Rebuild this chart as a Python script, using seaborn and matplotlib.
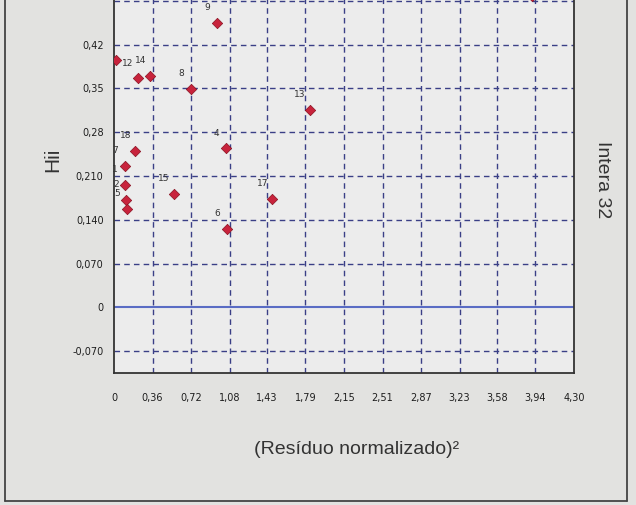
import matplotlib
matplotlib.use("Agg")
import matplotlib.pyplot as plt
import seaborn as sns
import pandas as pd
from matplotlib.lines import Line2D

# ---- data ----
obs_labels = ["9", "", "12", "14", "8", "13", "4", "18", "7", "1", "2", "5", "15", "17", "6", ""]
resid_sq = [0.96, 0.02, 0.22, 0.34, 0.72, 1.83, 1.05, 0.20, 0.10, 0.10, 0.11, 0.12, 0.56, 1.48, 1.06, 3.91]
hii = [0.455, 0.395, 0.366, 0.370, 0.349, 0.316, 0.254, 0.250, 0.226, 0.196, 0.172, 0.158, 0.181, 0.173, 0.126, 0.498]

x_ticks = [0, 0.36, 0.72, 1.08, 1.43, 1.79, 2.15, 2.51, 2.87, 3.23, 3.58, 3.94, 4.30]
x_tick_labels = ["0", "0,36", "0,72", "1,08", "1,43", "1,79", "2,15", "2,51", "2,87", "3,23", "3,58", "3,94", "4,30"]
y_ticks = [-0.07, 0, 0.07, 0.14, 0.21, 0.28, 0.35, 0.42, 0.49]
y_tick_labels = ["-0,070", "0", "0,070", "0,140", "0,210", "0,28", "0,35", "0,42", ""]

x_title = "(Resíduo normalizado)²"
y_title = "Hii"
side_title = "Intera 32"

df = pd.DataFrame({"label": obs_labels, "x": resid_sq, "y": hii})

sns.set_theme(style="white")
plt.rcParams['font.family'] = ['DejaVu Sans']

W, H = 636, 505
fig = plt.figure(figsize=(W / 100, H / 100), dpi=100, facecolor='#e2e2e0')
ax_left, ax_right, ax_bottom_px, ax_top_px = 114, 574, 373, -46
ax = fig.add_axes([ax_left / W, (H - ax_bottom_px) / H,
                   (ax_right - ax_left) / W, (ax_bottom_px - ax_top_px) / H])
ax.set_facecolor('#ececec')

ax.set_xlim(0, 4.30)
ax.set_ylim(-0.105, 0.565)

# grid
grid_kw = dict(color='#3a3f86', lw=1.0, linestyle=(0, (4, 3)), zorder=1)
for xv in x_ticks[1:-1]:
    ax.axvline(xv, **grid_kw)
for yv in y_ticks:
    if yv != 0:
        ax.axhline(yv, **grid_kw)
ax.axhline(0, color='#5a6cc4', lw=1.5, zorder=2)

sns.scatterplot(data=df, x="x", y="y", ax=ax, marker='D', s=28,
                color='#c8233c', edgecolor='#8a1020', linewidth=0.5, zorder=5,
                legend=False)

for _, r in df.iterrows():
    if r["label"]:
        ax.annotate(r["label"], (r["x"], r["y"]), xytext=(-7, 11),
                    textcoords='offset points', ha='center', va='center',
                    fontsize=6.5, color='#333333', zorder=6)

ax.set_xticks(x_ticks)
ax.set_xticklabels(x_tick_labels)
ax.set_yticks(y_ticks)
ax.set_yticklabels(y_tick_labels)
ax.tick_params(axis='x', direction='inout', length=5, width=1, color='#333333',
               labelsize=7, pad=12, labelcolor='#1e1e1e')
ax.tick_params(axis='y', direction='inout', length=5, width=1, color='#333333',
               labelsize=7, pad=5, labelcolor='#1e1e1e')

for sp in ax.spines.values():
    sp.set_color('#333333')
    sp.set_linewidth(1.3)

ax.set_xlabel(x_title, fontsize=14, family='Liberation Sans', color='#333333')
ax.xaxis.set_label_coords((357 - ax_left) / (ax_right - ax_left),
                          (ax_bottom_px - 441) / (ax_bottom_px - ax_top_px))
ax.set_ylabel(y_title, fontsize=15, family='Liberation Sans', color='#333333')
ax.yaxis.set_label_coords((62 - ax_left) / (ax_right - ax_left),
                          (ax_bottom_px - 160) / (ax_bottom_px - ax_top_px))

fig.text(603 / W, 1 - 180 / H, side_title, rotation=270, ha='center', va='center',
         fontsize=14, family='Liberation Sans', color='#333333')

# outer frame (top edge is cut off in the picture)
fc = '#444444'
fig.add_artist(Line2D([5 / W, 5 / W], [1.02, (H - 501) / H], transform=fig.transFigure, color=fc, lw=1.3))
fig.add_artist(Line2D([5 / W, 627 / W], [(H - 501) / H, (H - 501) / H], transform=fig.transFigure, color=fc, lw=1.3))
fig.add_artist(Line2D([627 / W, 627 / W], [(H - 501) / H, 1.02], transform=fig.transFigure, color=fc, lw=1.3))

fig.savefig("out.png", dpi=100, facecolor=fig.get_facecolor())
